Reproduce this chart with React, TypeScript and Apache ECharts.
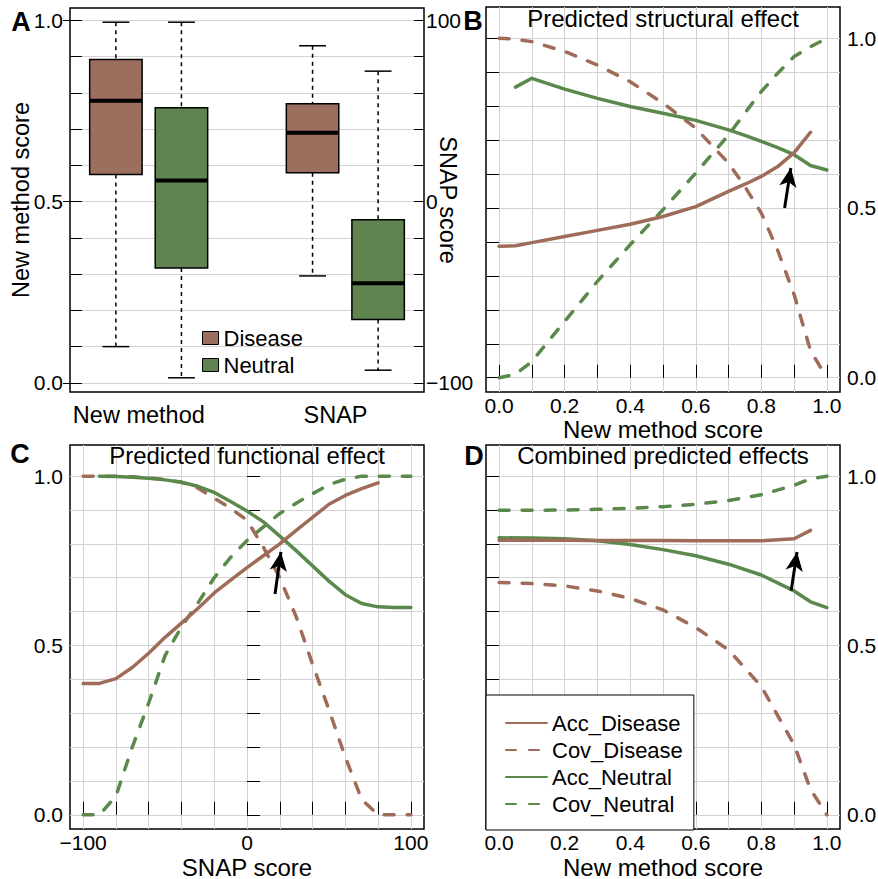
import React, { useEffect, useRef } from 'react';
import * as echarts from 'echarts';

const FONT = 'Liberation Sans';
const BROWN_LINE = '#9F6C5A';
const GREEN_LINE = '#5A894B';
const BROWN_FILL = '#9B6E5D';
const GREEN_FILL = '#5F844F';
const GRID_GRAY = '#D2D2D2';

// Panel A: box plots, one row per box
// [position, lower whisker, Q1, median, Q3, upper whisker]
const boxGroups = ['New method', 'SNAP'];
const groupLabelPos = [1.35, 4.35];
const newMethodDisease = [1, 0.1, 0.575, 0.778, 0.892, 0.995];
const newMethodNeutral = [2, 0.014, 0.317, 0.558, 0.759, 0.995];
const snapDisease = [4, -41, 16, 38, 54, 86];
const snapNeutral = [5, -93, -65, -45, -10, 72];

// Axis ticks and labels
const unitTicks = [0, 0.1, 0.2, 0.3, 0.4, 0.5, 0.6, 0.7, 0.8, 0.9, 1];
const unitLabels = [0, 0.5, 1];
const scoreLabels = [0, 0.2, 0.4, 0.6, 0.8, 1];
const snapTicks = [-100, -80, -60, -40, -20, 0, 20, 40, 60, 80, 100];
const snapLabels = [-100, 0, 100];

// Panel B: structural effect vs new method score
const thrB = [0, 0.05, 0.1, 0.2, 0.3, 0.4, 0.5, 0.6, 0.7, 0.75, 0.8, 0.85, 0.9, 0.95, 1];
const accDiseaseB = [0.387, 0.389, 0.398, 0.416, 0.434, 0.452, 0.475, 0.504, 0.549, 0.57, 0.593, 0.622, 0.663, 0.723, null];
const covDiseaseB = [1, 0.997, 0.99, 0.961, 0.921, 0.872, 0.809, 0.735, 0.632, 0.563, 0.485, 0.375, 0.245, 0.08, 0];
const accNeutralB = [null, 0.856, 0.882, 0.85, 0.823, 0.799, 0.779, 0.758, 0.73, 0.714, 0.696, 0.678, 0.657, 0.625, 0.612];
const covNeutralB = [0, 0.01, 0.048, 0.166, 0.284, 0.392, 0.495, 0.603, 0.715, 0.78, 0.843, 0.897, 0.946, 0.975, 1];
const arrowB = [[0.871, 0.5], [0.89, 0.618]];

// Panel C: functional effect vs SNAP score
const thrC = [-100, -90, -80, -70, -60, -50, -40, -30, -20, -10, 0, 10, 20, 30, 40, 50, 60, 70, 80, 90, 100];
const accDiseaseC = [0.388, 0.388, 0.402, 0.435, 0.477, 0.524, 0.566, 0.609, 0.655, 0.693, 0.73, 0.765, 0.8, 0.84, 0.878, 0.917, 0.943, 0.963, 0.98, null, null];
const covDiseaseC = [1, 1, 1, 0.998, 0.995, 0.99, 0.982, 0.965, 0.935, 0.905, 0.87, 0.79, 0.7, 0.585, 0.445, 0.31, 0.17, 0.045, 0, 0, 0];
const accNeutralC = [null, 1, 0.999, 0.997, 0.994, 0.989, 0.982, 0.97, 0.952, 0.925, 0.897, 0.865, 0.823, 0.78, 0.735, 0.69, 0.65, 0.624, 0.614, 0.612, 0.612];
const covNeutralC = [0, 0, 0.055, 0.2, 0.33, 0.47, 0.555, 0.625, 0.7, 0.76, 0.81, 0.85, 0.89, 0.92, 0.948, 0.975, 0.991, 1, 1, 1, 1];
const arrowC = [[17.1, 0.652], [20.7, 0.776]];

// Panel D: combined effects vs new method score
const thrD = [0, 0.1, 0.2, 0.3, 0.4, 0.5, 0.6, 0.7, 0.8, 0.9, 0.95, 1];
const accDiseaseD = [0.811, 0.811, 0.811, 0.81, 0.81, 0.81, 0.809, 0.809, 0.809, 0.815, 0.84, null];
const covDiseaseD = [0.686, 0.683, 0.676, 0.661, 0.639, 0.605, 0.553, 0.487, 0.379, 0.207, 0.075, 0];
const accNeutralD = [0.818, 0.817, 0.815, 0.809, 0.798, 0.783, 0.765, 0.74, 0.708, 0.661, 0.629, 0.612];
const covNeutralD = [0.899, 0.899, 0.9, 0.902, 0.905, 0.91, 0.917, 0.928, 0.945, 0.973, 0.992, 1];
const arrowD = [[0.891, 0.662], [0.909, 0.776]];

const seriesNames = ['Acc_Disease', 'Cov_Disease', 'Acc_Neutral', 'Cov_Neutral'];

const unitFmt = (v: number) => v.toFixed(1);
const snapFmt = (v: number) => (v < 0 ? '\u2212' + Math.abs(v) : String(v));

const labelStyle = { color: '#000', fontSize: 21, fontFamily: FONT };

function pairs(xs: number[], ys: (number | null)[]) {
  const out: number[][] = [];
  xs.forEach((x, i) => {
    const y = ys[i];
    if (y !== null && y !== undefined) out.push([x, y]);
  });
  return out;
}

function renderBox(params: any, api: any) {
  const pos = api.value(0);
  const low = api.coord([pos, api.value(1)]);
  const q1 = api.coord([pos, api.value(2)]);
  const med = api.coord([pos, api.value(3)]);
  const q3 = api.coord([pos, api.value(4)]);
  const high = api.coord([pos, api.value(5)]);
  const boxW = api.size([0.8, 0])[0];
  const capW = api.size([0.41, 0])[0];
  const x = low[0];
  const whisker = { stroke: '#000', lineWidth: 1.5, lineDash: [4, 4] };
  const solid = { stroke: '#000', lineWidth: 1.5 };
  return {
    type: 'group',
    children: [
      { type: 'line', shape: { x1: x, y1: high[1], x2: x, y2: q3[1] }, style: whisker },
      { type: 'line', shape: { x1: x, y1: q1[1], x2: x, y2: low[1] }, style: whisker },
      { type: 'line', shape: { x1: x - capW / 2, y1: high[1], x2: x + capW / 2, y2: high[1] }, style: solid },
      { type: 'line', shape: { x1: x - capW / 2, y1: low[1], x2: x + capW / 2, y2: low[1] }, style: solid },
      {
        type: 'rect',
        shape: { x: x - boxW / 2, y: q3[1], width: boxW, height: q1[1] - q3[1] },
        style: { fill: api.visual('color'), stroke: '#000', lineWidth: 1.5 },
      },
      { type: 'line', shape: { x1: x - boxW / 2, y1: med[1], x2: x + boxW / 2, y2: med[1] }, style: { stroke: '#000', lineWidth: 4 } },
    ],
  };
}

function boxSeries(name: string, color: string, row: number[], yAxisIndex: number) {
  return {
    type: 'custom',
    name,
    xAxisIndex: 0,
    yAxisIndex,
    renderItem: renderBox,
    itemStyle: { color },
    encode: { x: 0, y: [1, 2, 3, 4, 5] },
    data: [row],
    z: 3,
  };
}

// panel: 1 = B, 2 = C, 3 = D
function lineSeries(name: string, panel: number, xs: number[], ys: (number | null)[], arrow?: number[][]) {
  const disease = name.indexOf('Disease') >= 0;
  const dashed = name.indexOf('Cov') === 0;
  const color = disease ? BROWN_LINE : GREEN_LINE;
  const s: any = {
    type: 'line',
    name,
    xAxisIndex: panel,
    yAxisIndex: panel + 2,
    symbol: 'none',
    showSymbol: false,
    itemStyle: { color },
    lineStyle: { color, width: 3.5, type: dashed ? [10, 13] : 'solid', cap: 'round', join: 'round' },
    data: pairs(xs, ys),
    z: 3,
  };
  if (arrow) {
    s.markLine = {
      silent: true,
      symbol: ['none', 'arrow'],
      symbolSize: [13, 19],
      label: { show: false },
      lineStyle: { color: '#000', width: 3, type: 'solid' },
      itemStyle: { color: '#000' },
      data: [[{ coord: arrow[0] }, { coord: arrow[1] }]],
    };
  }
  return s;
}

function unitYAxis(gridIndex: number, position: 'left' | 'right') {
  return {
    type: 'value',
    gridIndex,
    position,
    min: -0.042,
    max: 1.092,
    axisLine: { show: false },
    axisTick: { show: true, inside: true, length: 13, customValues: unitTicks, lineStyle: { color: '#000', width: 1 } },
    axisLabel: { ...labelStyle, margin: 7, customValues: unitLabels, formatter: unitFmt },
    splitLine: { show: true, lineStyle: { color: GRID_GRAY, width: 1 } },
  };
}

function scoreXAxis(gridIndex: number) {
  return {
    type: 'value',
    gridIndex,
    min: -0.04,
    max: 1.04,
    axisLine: { show: false },
    axisTick: { show: true, inside: true, length: 13, customValues: unitTicks, lineStyle: { color: '#000', width: 1 } },
    axisLabel: { ...labelStyle, margin: 3, customValues: scoreLabels, formatter: unitFmt },
    splitLine: { show: true, lineStyle: { color: GRID_GRAY, width: 1 } },
  };
}

function txt(text: string, x: number, y: number, size: number, rotation = 0, bold = false) {
  return {
    type: 'text',
    x,
    y,
    rotation,
    z: 20,
    style: {
      text,
      fill: '#000',
      fontSize: size,
      fontFamily: FONT,
      fontWeight: bold ? 'bold' : 'normal',
      align: 'center',
      verticalAlign: 'middle',
    },
  };
}

const gridBase = {
  show: true,
  borderColor: '#000',
  borderWidth: 1.5,
  backgroundColor: 'transparent',
  containLabel: false,
  outerBoundsMode: 'none',
};

const option: any = {
  animation: false,
  backgroundColor: '#fff',
  textStyle: { fontFamily: FONT },
  grid: [
    { ...gridBase, left: 70, top: 8, width: 354, height: 384 },
    { ...gridBase, left: 486, top: 7, width: 354, height: 385 },
    { ...gridBase, left: 70, top: 445, width: 354, height: 384 },
    { ...gridBase, left: 486, top: 445, width: 354, height: 384 },
  ],
  xAxis: [
    {
      type: 'value',
      gridIndex: 0,
      min: 0.3,
      max: 5.7,
      axisLine: { show: false },
      axisTick: { show: false },
      splitLine: { show: false },
      axisLabel: {
        ...labelStyle,
        fontSize: 23.5,
        margin: 11,
        customValues: groupLabelPos,
        formatter: (v: number) => {
          const i = groupLabelPos.findIndex((p) => Math.abs(p - v) < 1e-6);
          return i >= 0 ? boxGroups[i] : '';
        },
      },
    },
    scoreXAxis(1),
    {
      type: 'value',
      gridIndex: 2,
      min: -108,
      max: 108,
      axisLine: { show: false },
      axisTick: { show: true, inside: true, length: 13, customValues: snapTicks, lineStyle: { color: '#000', width: 1 } },
      axisLabel: { ...labelStyle, margin: 3, customValues: snapLabels, formatter: snapFmt },
      splitLine: { show: true, lineStyle: { color: GRID_GRAY, width: 1 } },
    },
    scoreXAxis(3),
  ],
  yAxis: [
    // 0: panel A, new method score (left)
    {
      type: 'value',
      gridIndex: 0,
      position: 'left',
      min: -0.0252,
      max: 1.0342,
      axisLine: { show: false },
      axisTick: { show: true, inside: true, length: 12, customValues: unitTicks, lineStyle: { color: '#000', width: 1 } },
      axisLabel: { ...labelStyle, margin: 7, customValues: unitLabels, formatter: unitFmt },
      splitLine: { show: true, lineStyle: { color: GRID_GRAY, width: 1 } },
    },
    // 1: panel A, SNAP score (right)
    {
      type: 'value',
      gridIndex: 0,
      position: 'right',
      min: -105.04,
      max: 106.84,
      axisLine: { show: false },
      axisTick: { show: true, inside: true, length: 10, customValues: snapTicks, lineStyle: { color: '#000', width: 1 } },
      axisLabel: { ...labelStyle, margin: 2, customValues: snapLabels, formatter: snapFmt },
      splitLine: { show: false },
    },
    // 2: panel A, outer major ticks on the left
    {
      type: 'value',
      gridIndex: 0,
      position: 'left',
      min: -0.0252,
      max: 1.0342,
      axisLine: { show: false },
      axisTick: { show: true, inside: false, length: 7, customValues: unitLabels, lineStyle: { color: '#000', width: 1 } },
      axisLabel: { show: false },
      splitLine: { show: false },
    },
    unitYAxis(1, 'right'),
    unitYAxis(2, 'left'),
    unitYAxis(3, 'right'),
  ],
  legend: [
    {
      data: [
        { name: 'Disease', icon: 'rect' },
        { name: 'Neutral', icon: 'rect' },
      ],
      left: 202,
      top: 327,
      orient: 'vertical',
      padding: 0,
      itemWidth: 16,
      itemHeight: 13,
      itemGap: 5,
      selectedMode: false,
      itemStyle: { borderColor: '#000', borderWidth: 1 },
      textStyle: { color: '#000', fontSize: 22, fontFamily: FONT, lineHeight: 22 },
    },
    {
      data: seriesNames,
      left: 486,
      top: 695,
      orient: 'vertical',
      backgroundColor: '#fff',
      borderColor: '#000',
      borderWidth: 1,
      borderRadius: 0,
      padding: [17, 11, 15, 19],
      itemWidth: 41,
      itemHeight: 14,
      itemGap: 5,
      selectedMode: false,
      // line-only keys: hide the marker drawn on top of each sample line
      itemStyle: { opacity: 0 },
      textStyle: { color: '#000', fontSize: 22, fontFamily: FONT, lineHeight: 22 },
    },
  ],
  series: [
    boxSeries('Disease', BROWN_FILL, newMethodDisease, 0),
    boxSeries('Neutral', GREEN_FILL, newMethodNeutral, 0),
    boxSeries('Disease', BROWN_FILL, snapDisease, 1),
    boxSeries('Neutral', GREEN_FILL, snapNeutral, 1),

    lineSeries('Cov_Neutral', 1, thrB, covNeutralB),
    lineSeries('Cov_Disease', 1, thrB, covDiseaseB),
    lineSeries('Acc_Neutral', 1, thrB, accNeutralB),
    lineSeries('Acc_Disease', 1, thrB, accDiseaseB, arrowB),

    lineSeries('Cov_Neutral', 2, thrC, covNeutralC),
    lineSeries('Cov_Disease', 2, thrC, covDiseaseC),
    lineSeries('Acc_Neutral', 2, thrC, accNeutralC),
    lineSeries('Acc_Disease', 2, thrC, accDiseaseC, arrowC),

    lineSeries('Cov_Neutral', 3, thrD, covNeutralD),
    lineSeries('Cov_Disease', 3, thrD, covDiseaseD),
    lineSeries('Acc_Neutral', 3, thrD, accNeutralD),
    lineSeries('Acc_Disease', 3, thrD, accDiseaseD, arrowD),
  ],
  graphic: [
    txt('A', 21, 22, 27, 0, true),
    txt('B', 473, 21, 27, 0, true),
    txt('C', 20, 454, 27, 0, true),
    txt('D', 474, 456, 27, 0, true),
    txt('Predicted structural effect', 663, 18, 24),
    txt('Predicted functional effect', 247, 455, 24),
    txt('Combined predicted effects', 663, 455, 24),
    txt('New method score', 21, 200, 23.5, Math.PI / 2),
    txt('SNAP score', 448, 200, 23.5, -Math.PI / 2),
    txt('New method score', 663, 429, 24),
    txt('SNAP score', 247, 867, 24),
    txt('New method score', 663, 867, 24),
  ],
};

export default function App() {
  const ref = useRef<HTMLDivElement>(null);
  useEffect(() => {
    if (!ref.current) return;
    const chart = echarts.init(ref.current, null, { renderer: 'svg' });
    chart.setOption(option);
    return () => chart.dispose();
  }, []);
  return (
    <div
      ref={ref}
      style={{ position: 'absolute', left: 0, top: 0, width: 878, height: 879, background: '#fff' }}
    />
  );
}
